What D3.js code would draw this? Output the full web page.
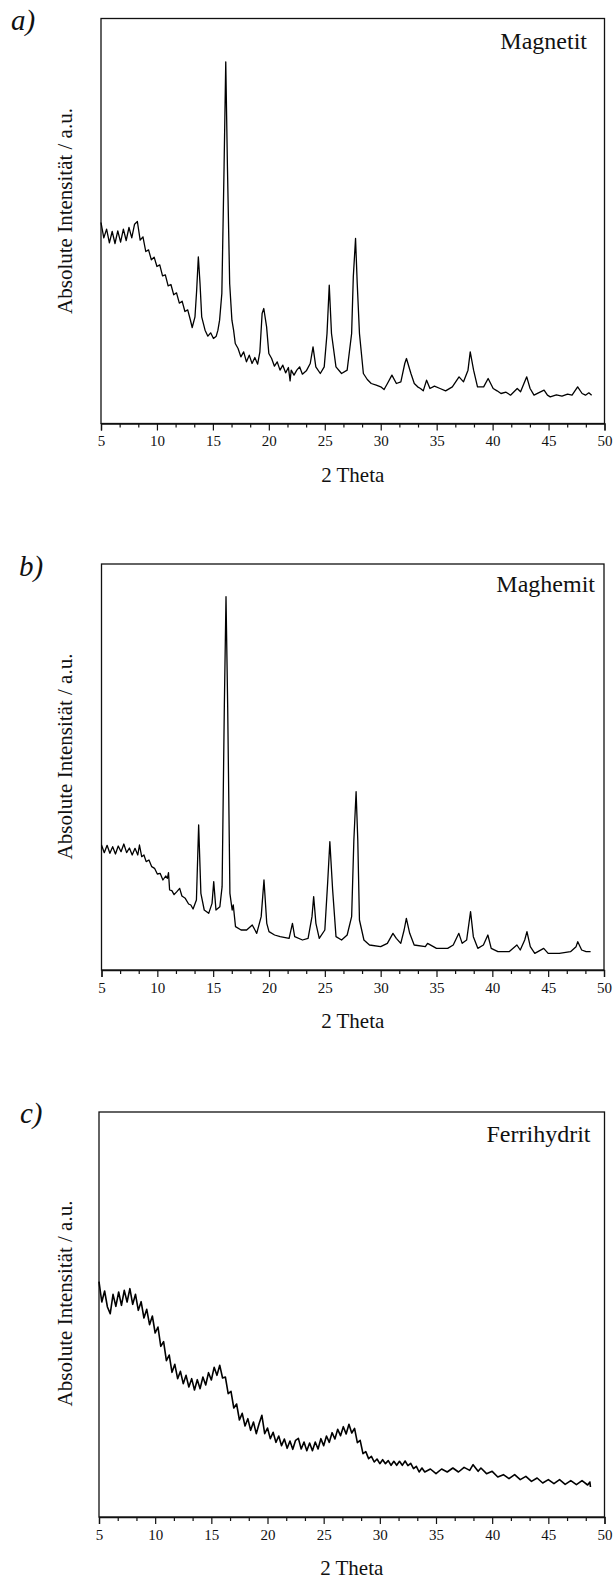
<!DOCTYPE html>
<html>
<head>
<meta charset="utf-8">
<script src="https://cdn.jsdelivr.net/npm/d3@7"></script>
<style>
  html, body { margin: 0; padding: 0; background: #fff; }
  svg { display: block; }
  text { font-family: "Liberation Serif", "Times New Roman", serif; fill: #111; }
</style>
</head>
<body>
<svg id="chart" width="616" height="1584"></svg>
<script>
'use strict';

// x axis ticks (2 Theta)
var majorTicks = [5, 10, 15, 20, 25, 30, 35, 40, 45, 50];
var minorTicks = [];
majorTicks.slice(0, -1).forEach(function(t) { minorTicks.push(t + 5 / 3, t + 10 / 3); });

// a) Magnetit
var thetaA = [5.0, 5.25, 5.5, 5.75, 6.0, 6.25, 6.5, 6.75, 7.0, 7.25, 7.5, 7.75, 8.0, 8.25, 8.5, 8.75, 9.0, 9.25,
  9.5, 9.75, 10.0, 10.25, 10.5, 10.75, 11.0, 11.25, 11.5, 11.75, 12.0, 12.25, 12.5, 12.75, 13.0, 13.15, 13.4,
  13.55, 13.7, 13.85, 14.0, 14.3, 14.55, 14.8, 15.05, 15.3, 15.45, 15.6, 15.8, 16.0, 16.15, 16.3, 16.5, 16.7,
  16.85, 17.0, 17.25, 17.5, 17.75, 18.0, 18.25, 18.5, 18.75, 19.0, 19.2, 19.4, 19.55, 19.8, 20.0, 20.25, 20.5,
  20.75, 21.0, 21.25, 21.5, 21.75, 21.9, 22.0, 22.25, 22.5, 22.75, 23.0, 23.35, 23.7, 23.95, 24.2, 24.6, 24.95,
  25.2, 25.4, 25.6, 26.0, 26.5, 27.0, 27.4, 27.55, 27.75, 27.9, 28.1, 28.45, 28.8, 29.15, 29.6, 30.0, 30.3,
  30.6, 31.0, 31.4, 31.8, 32.15, 32.3, 32.7, 33.0, 33.3, 33.55, 33.8, 34.1, 34.4, 34.8, 35.3, 35.8, 36.4, 37.0,
  37.4, 37.8, 38.0, 38.3, 38.65, 39.2, 39.6, 40.05, 40.4, 40.75, 41.2, 41.6, 42.2, 42.5, 42.8, 43.05, 43.35,
  43.7, 44.1, 44.6, 44.9, 45.15, 45.7, 46.2, 46.7, 47.1, 47.6, 48.0, 48.3, 48.6, 48.85];
var intensityA = [603, 557, 583, 542, 576, 540, 578, 544, 583, 549, 588, 557, 598, 606, 550, 560, 516, 521,
  491, 499, 471, 476, 443, 446, 413, 417, 386, 392, 361, 367, 336, 341, 309, 288, 320,
  400, 500, 420, 320, 280, 262, 272, 255, 262, 280, 310, 390, 770, 1085, 770, 420, 310,
  280, 240, 225, 200, 215, 185, 205, 180, 198, 178, 215, 330, 345, 290, 210, 195, 172,
  185, 160, 175, 152, 168, 128, 160, 145, 160, 170, 148, 158, 180, 230, 170, 150, 170,
  270, 415, 270, 170, 150, 160, 270, 440, 555, 420, 270, 150, 132, 120, 115, 110, 102,
  120, 145, 120, 125, 180, 195, 150, 120, 110, 105, 98, 130, 105, 112, 105, 98, 110, 140,
  125, 160, 215, 160, 110, 110, 135, 105, 98, 90, 94, 85, 105, 95, 120, 140, 105,
  85, 92, 100, 85, 80, 86, 82, 88, 85, 110, 90, 85, 92, 85];

// b) Maghemit
var thetaB = [5.0, 5.25, 5.5, 5.75, 6.0, 6.25, 6.5, 6.75, 7.0, 7.25, 7.5, 7.75, 8.0, 8.25, 8.4, 8.6, 8.8, 9.0,
  9.25, 9.5, 9.75, 10.0, 10.25, 10.5, 10.75, 10.9, 11.0, 11.1, 11.3, 11.5, 11.75, 12.0, 12.2, 12.5, 12.8, 13.0,
  13.2, 13.5, 13.7, 13.9, 14.2, 14.6, 14.9, 15.05, 15.25, 15.6, 15.8, 16.0, 16.15, 16.3, 16.5, 16.7, 16.8, 17.0,
  17.5, 18.0, 18.5, 18.9, 19.3, 19.55, 19.8, 20.0, 20.5, 21.0, 21.8, 22.1, 22.3, 23.0, 23.5, 23.85, 24.0, 24.2,
  24.5, 25.0, 25.25, 25.45, 25.7, 26.0, 26.5, 27.0, 27.4, 27.6, 27.8, 27.95, 28.1, 28.5, 29.0, 30.0, 30.6,
  31.1, 31.4, 31.8, 32.1, 32.3, 32.6, 33.0, 34.0, 34.2, 35.0, 36.0, 36.5, 37.0, 37.3, 37.7, 38.05, 38.3, 38.7,
  39.2, 39.6, 39.9, 40.5, 41.5, 42.2, 42.5, 42.9, 43.1, 43.4, 43.8, 44.6, 45.0, 46.0, 47.0, 47.5, 47.65, 48.0,
  48.4, 48.8];
var intensityB = [375, 352, 374, 350, 370, 348, 372, 355, 378, 352, 366, 345, 365, 345, 375, 340, 345, 325,
  330, 310, 305, 288, 290, 270, 282, 275, 292, 240, 238, 226, 235, 245, 222, 215, 198, 195,
  183, 210, 435, 230, 180, 170, 200, 265, 180, 190, 250, 790, 1120, 790, 230, 180, 195, 130,
  120, 120, 135, 110, 160, 270, 140, 115, 105, 100, 95, 140, 100, 90, 95, 160, 220, 140,
  95, 120, 260, 385, 240, 100, 90, 105, 160, 390, 535, 390, 150, 90, 75, 70, 80,
  110, 95, 80, 120, 155, 110, 75, 70, 80, 65, 65, 75, 110, 80, 90, 175, 100, 65,
  75, 105, 65, 55, 55, 75, 60, 90, 115, 70, 50, 65, 50, 50, 55, 70, 85, 60,
  55, 55];

// c) Ferrihydrit
var thetaC = [5.0, 5.25, 5.5, 5.75, 6.0, 6.25, 6.5, 6.75, 7.0, 7.25, 7.5, 7.75, 8.0, 8.25, 8.5, 8.75, 9.0, 9.25,
  9.5, 9.75, 10.0, 10.25, 10.5, 10.75, 11.0, 11.25, 11.5, 11.75, 12.0, 12.25, 12.5, 12.75, 13.0, 13.25, 13.5,
  13.75, 14.0, 14.25, 14.5, 14.75, 15.0, 15.25, 15.5, 15.75, 16.0, 16.25, 16.5, 16.75, 17.0, 17.25, 17.5, 17.75,
  18.0, 18.25, 18.5, 18.75, 19.0, 19.25, 19.5, 19.75, 20.0, 20.25, 20.5, 20.75, 21.0, 21.25, 21.5, 21.75, 22.0,
  22.25, 22.5, 22.75, 23.0, 23.25, 23.5, 23.75, 24.0, 24.25, 24.5, 24.75, 25.0, 25.25, 25.5, 25.75, 26.0, 26.25,
  26.5, 26.75, 27.0, 27.25, 27.5, 27.75, 28.0, 28.25, 28.5, 28.75, 29.0, 29.25, 29.5, 29.75, 30.0, 30.25, 30.5,
  30.75, 31.0, 31.25, 31.5, 31.75, 32.0, 32.25, 32.5, 32.75, 33.0, 33.25, 33.5, 33.75, 34.0, 34.5, 35.0, 35.5,
  36.0, 36.5, 37.0, 37.5, 38.0, 38.3, 38.75, 39.0, 39.5, 40.0, 40.5, 41.0, 41.5, 42.0, 42.5, 43.0, 43.5, 44.0,
  44.5, 45.0, 45.5, 46.0, 46.5, 47.0, 47.5, 48.0, 48.5, 48.7, 48.75];
var intensityC = [706, 645, 678, 630, 610, 668, 632, 675, 635, 680, 645, 685, 638, 668, 620, 646, 597, 623,
  577, 603, 552, 570, 512, 526, 469, 486, 434, 458, 415, 437, 400, 425, 390, 415, 381,
  412, 385, 420, 396, 433, 411, 449, 425, 455, 417, 420, 370, 377, 327, 339, 291, 311,
  273, 295, 260, 285, 250, 280, 305, 250, 267, 235, 254, 224, 243, 214, 234, 206, 228,
  203, 230, 236, 204, 225, 199, 222, 199, 225, 204, 235, 214, 243, 224, 253, 234, 263,
  244, 271, 249, 278, 252, 266, 223, 230, 190, 196, 175, 182, 165, 174, 160, 172, 160,
  169, 155, 167, 155, 167, 155, 168, 154, 161, 145, 152, 135, 147, 135, 144, 130, 144,
  135, 147, 135, 149, 140, 157, 137, 147, 130, 137, 120, 127, 115, 127, 112, 122, 107, 117,
  102, 112, 100, 112, 98, 109, 97, 109, 96, 105, 90];

var panels = [
  { letter: 'a)', name: 'Magnetit', theta: thetaA, intensity: intensityA, yMax: 1215, lineWidth: 1.3,
    left: 101, right: 604.5, top: 18.5, bottom: 423.5, letterX: 11, letterY: 30, nameX: 587, nameY: 48.5, labelY: 211 },
  { letter: 'b)', name: 'Maghemit', theta: thetaB, intensity: intensityB, yMax: 1218, lineWidth: 1.3,
    left: 101.5, right: 604, top: 564, bottom: 970, letterX: 19, letterY: 576, nameX: 595, nameY: 591.5, labelY: 756.5 },
  { letter: 'c)', name: 'Ferrihydrit', theta: thetaC, intensity: intensityC, yMax: 1215, lineWidth: 1.6,
    left: 99, right: 604.5, top: 1112, bottom: 1517, letterX: 20, letterY: 1123, nameX: 590.5, nameY: 1141.5, labelY: 1303.5 }
];

var svg = d3.select('#chart');

panels.forEach(function(p) {
  if (p.theta.length !== p.intensity.length) console.warn(p.name + ': length mismatch');

  var g = svg.append('g');

  var x = d3.scaleLinear().domain([5, 50]).range([p.left, p.right]);
  var y = d3.scaleLinear().domain([0, p.yMax]).range([p.bottom, p.top]);

  // frame
  g.append('rect')
      .attr('x', p.left).attr('y', p.top)
      .attr('width', p.right - p.left).attr('height', p.bottom - p.top)
      .attr('fill', 'none').attr('stroke', '#111').attr('stroke-width', 1.3);

  // minor ticks
  g.append('g')
      .attr('transform', 'translate(0,' + p.bottom + ')')
      .call(d3.axisBottom(x).tickValues(minorTicks).tickSize(4).tickFormat(''))
      .call(function(a) { a.select('.domain').remove(); a.selectAll('line').attr('stroke', '#111').attr('stroke-width', 1.2); });

  // major ticks + labels
  g.append('g')
      .attr('transform', 'translate(0,' + p.bottom + ')')
      .call(d3.axisBottom(x).tickValues(majorTicks).tickSize(7).tickPadding(5).tickFormat(d3.format('d')))
      .call(function(a) {
        a.select('.domain').attr('stroke', '#111').attr('stroke-width', 1.3);
        a.selectAll('line').attr('stroke', '#111').attr('stroke-width', 1.2);
        a.selectAll('text').attr('font-family', '"Liberation Serif", serif').attr('font-size', 15).attr('fill', '#111');
      });

  // data line
  var pts = p.theta.map(function(t, i) { return [t, p.intensity[i]]; });
  g.append('path')
      .datum(pts)
      .attr('d', d3.line().x(function(d) { return x(d[0]); }).y(function(d) { return y(d[1]); }))
      .attr('fill', 'none').attr('stroke', '#000').attr('stroke-width', p.lineWidth).attr('stroke-linejoin', 'round');

  // texts
  g.append('text').attr('x', p.letterX).attr('y', p.letterY)
      .attr('font-size', 29).attr('font-style', 'italic').text(p.letter);
  g.append('text').attr('x', p.nameX).attr('y', p.nameY)
      .attr('font-size', 24).attr('text-anchor', 'end').text(p.name);
  g.append('text')
      .attr('transform', 'translate(72,' + p.labelY + ') rotate(-90)')
      .attr('font-size', 21).attr('text-anchor', 'middle').text('Absolute Intensität / a.u.');
  g.append('text').attr('x', (p.left + p.right) / 2).attr('y', p.bottom + 58)
      .attr('font-size', 21).attr('text-anchor', 'middle').text('2 Theta');
});
</script>
</body>
</html>
